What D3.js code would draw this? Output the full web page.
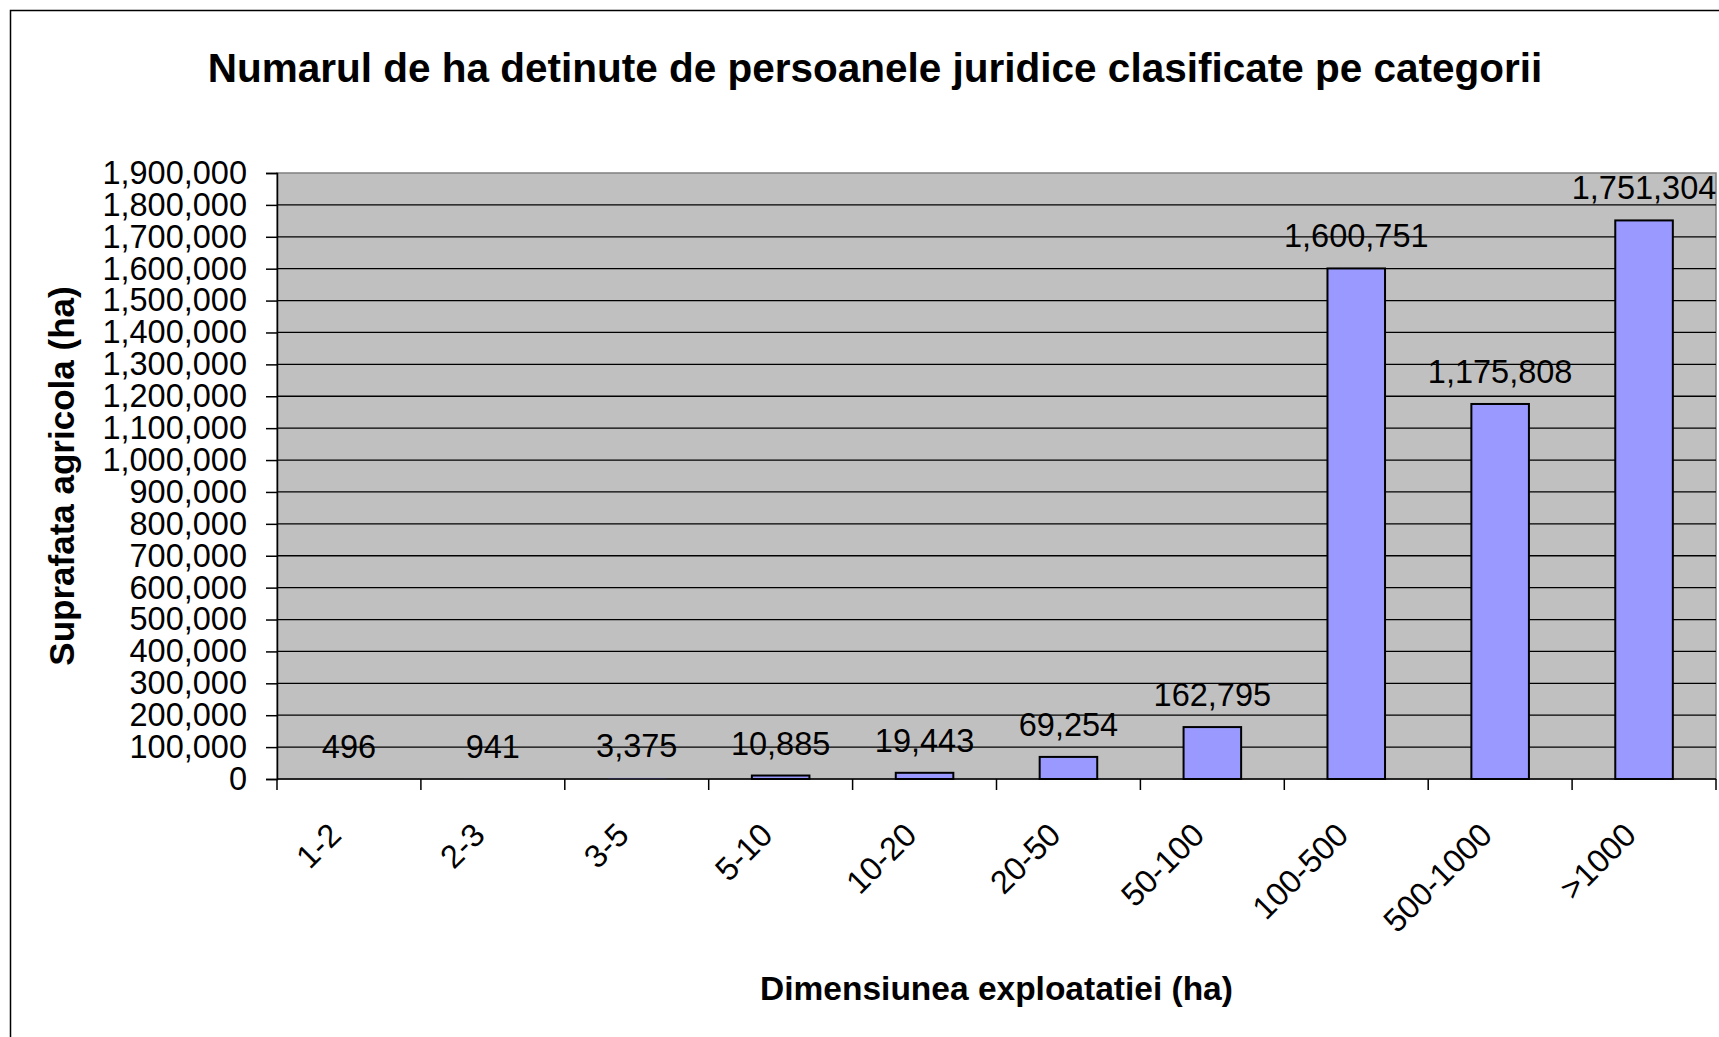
<!DOCTYPE html>
<html>
<head>
<meta charset="utf-8">
<script src="https://cdn.jsdelivr.net/npm/d3@7"></script>
<style>
  body { margin: 0; background: #fff; }
  svg { display: block; font-family: "Liberation Sans", Arial, sans-serif; }
</style>
</head>
<body>
<div id="chart"></div>
<script>
// Data
const categories = ["1-2", "2-3", "3-5", "5-10", "10-20", "20-50", "50-100", "100-500", "500-1000", ">1000"];
const hectares = [496, 941, 3375, 10885, 19443, 69254, 162795, 1600751, 1175808, 1751304];
const yTicks = d3.range(0, 1900001, 100000);

const chartTitle = "Numarul de ha detinute de persoanele juridice clasificate pe categorii";
const xTitle = "Dimensiunea exploatatiei (ha)";
const yTitle = "Suprafata agricola (ha)";

const width = 1719;
const height = 1037;
const plot = { left: 277, right: 1716, top: 173, bottom: 779 };

const svg = d3.select("#chart").append("svg").attr("width", width).attr("height", height);

// outer chart border (right and bottom fall outside the picture)
svg.append("rect")
  .attr("x", 10.5).attr("y", 10.5)
  .attr("width", 1760).attr("height", 1060)
  .attr("fill", "#fff").attr("stroke", "#000").attr("stroke-width", 1.5);

const x = d3.scaleBand().domain(categories).range([plot.left, plot.right]);
const y = d3.scaleLinear().domain([0, 1900000]).range([plot.bottom, plot.top]);
const fmt = d3.format(",");

// plot background
svg.append("rect")
  .attr("x", plot.left).attr("y", plot.top)
  .attr("width", plot.right - plot.left).attr("height", plot.bottom - plot.top)
  .attr("fill", "#c0c0c0").attr("stroke", "#808080").attr("stroke-width", 1.5);

// gridlines
svg.selectAll(".grid")
  .data(yTicks.filter((d) => d > 0 && d < 1900000))
  .enter()
  .append("line")
  .attr("class", "grid")
  .attr("x1", plot.left).attr("x2", plot.right)
  .attr("y1", (d) => y(d)).attr("y2", (d) => y(d))
  .attr("stroke", "#000").attr("stroke-width", 1.3);

// bars (the tiniest ones are too thin to show in the reference)
const barW = x.bandwidth() * 0.4;
svg.selectAll(".bar")
  .data(hectares)
  .enter()
  .append("rect")
  .attr("class", "bar")
  .attr("x", (d, i) => x(categories[i]) + (x.bandwidth() - barW) / 2)
  .attr("y", (d) => y(d))
  .attr("width", barW)
  .attr("height", (d) => y(0) - y(d))
  .attr("fill", "#9999ff")
  .attr("stroke", (d) => (y(0) - y(d) < 2 ? "none" : "#000"))
  .attr("stroke-width", 2);

// y axis
const yAxis = d3.axisLeft(y).tickValues(yTicks).tickFormat(fmt).tickSize(11).tickPadding(19);
const gy = svg.append("g").attr("transform", `translate(${plot.left},0)`).call(yAxis);
gy.select(".domain").attr("stroke", "#000").attr("stroke-width", 1.5);
gy.selectAll(".tick line").attr("stroke", "#000").attr("stroke-width", 1.5);
gy.selectAll(".tick text")
  .attr("font-size", 32.5).attr("fill", "#000")
  .attr("font-family", "Liberation Sans, Arial, sans-serif");

// x axis line and boundary ticks
svg.append("line")
  .attr("x1", plot.left).attr("x2", plot.right)
  .attr("y1", plot.bottom).attr("y2", plot.bottom)
  .attr("stroke", "#000").attr("stroke-width", 1.5);
svg.selectAll(".xtick")
  .data(categories.map((c) => x(c)).concat([plot.right]))
  .enter()
  .append("line")
  .attr("class", "xtick")
  .attr("x1", (d) => d).attr("x2", (d) => d)
  .attr("y1", plot.bottom).attr("y2", plot.bottom + 11)
  .attr("stroke", "#000").attr("stroke-width", 1.5);

// x tick labels rotated 45 degrees
svg.selectAll(".xlabel")
  .data(categories)
  .enter()
  .append("text")
  .attr("class", "xlabel")
  .attr("text-anchor", "end")
  .attr("font-size", 32.5)
  .attr("transform", (d) => `translate(${x(d) + x.bandwidth() / 2 - 6},${plot.bottom + 58}) rotate(-45)`)
  .text((d) => d);

// data labels
svg.selectAll(".value")
  .data(hectares)
  .enter()
  .append("text")
  .attr("class", "value")
  .attr("text-anchor", "middle")
  .attr("font-size", 32.5)
  .attr("x", (d, i) => x(categories[i]) + x.bandwidth() / 2)
  .attr("y", (d) => y(d) - 21)
  .text((d) => fmt(d));

// titles
svg.append("text")
  .attr("x", 875).attr("y", 82)
  .attr("text-anchor", "middle")
  .attr("font-size", 40.5).attr("font-weight", "bold")
  .text(chartTitle);

svg.append("text")
  .attr("x", (plot.left + plot.right) / 2).attr("y", 1000)
  .attr("text-anchor", "middle")
  .attr("font-size", 33.5).attr("font-weight", "bold")
  .text(xTitle);

svg.append("text")
  .attr("transform", `translate(74,${(plot.top + plot.bottom) / 2}) rotate(-90)`)
  .attr("text-anchor", "middle")
  .attr("font-size", 35).attr("font-weight", "bold")
  .text(yTitle);
</script>
</body>
</html>
